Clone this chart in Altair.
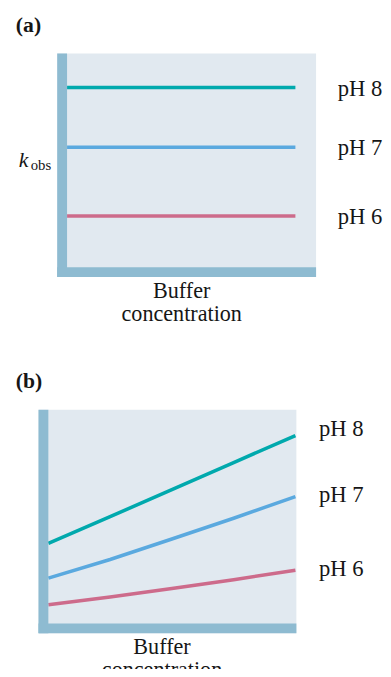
import altair as alt
import pandas as pd

# ---------------- data ----------------
series = ["pH 8", "pH 7", "pH 6"]
line_colors = ["#00A9AD", "#5AA9DF", "#CD6B8B"]

# panel (a): k_obs does not change with buffer concentration
a_x = [0.0, 1.0]
a_levels = [8.48, 5.81, 2.73]
a_label_y = [8.40, 5.76, 2.69]

# panel (b): k_obs rises with buffer concentration
b_x = [0.0, 0.25, 0.5, 0.75, 1.0]
b_ph8 = [4.02, 5.22, 6.43, 7.64, 8.85]
b_ph7 = [2.47, 3.30, 4.22, 5.15, 6.12]
b_ph6 = [1.28, 1.62, 2.00, 2.40, 2.82]
b_label_y = [9.16, 6.17, 2.89]

kobs_y = 4.91
x_title = ["Buffer", "concentration"]

# ---------------- layout / style ----------------
FONT = "Liberation Serif"
TXT = "#161616"
FILL = "#E1E9F0"
BARC = "#8EBBD1"
H = 227
Y_DOM = [0, 10]
BAR = 10  # px thickness of the axis bars


def build_lines(xs, ys_list):
    rows = []
    for s, c, ys in zip(series, line_colors, ys_list):
        for xv, yv in zip(xs, ys):
            rows.append({"series": s, "color": c, "x": xv, "y": yv})
    return pd.DataFrame(rows)


def panel(lines_df, label_ys, width, start_px, unit_px, fill_left_px,
          title, label_dx, title_x, with_kobs=False):
    d0 = -start_px / unit_px
    d1 = d0 + width / unit_px
    fx0 = d0 + fill_left_px / unit_px
    bx1 = fx0 + BAR / unit_px
    by1 = BAR / (H / (Y_DOM[1] - Y_DOM[0]))

    axis = alt.Axis(title=x_title, domain=False, ticks=False, labels=False,
                    grid=False, titleFont=FONT, titleFontSize=22.5,
                    titleFontWeight="normal", titleColor=TXT, titlePadding=3,
                    titleLineHeight=23, titleX=title_x)
    xs = alt.Scale(domain=[d0, d1], nice=False, zero=False)
    ys = alt.Scale(domain=Y_DOM, nice=False, zero=False)

    def X(f):
        return alt.X(f, type="quantitative", scale=xs, axis=axis)

    def Y(f):
        return alt.Y(f, type="quantitative", scale=ys, axis=None)

    bg = pd.DataFrame([{"x0": fx0, "x1": d1, "y0": Y_DOM[0], "y1": Y_DOM[1]}])
    bars = pd.DataFrame([
        {"x0": fx0, "x1": bx1, "y0": Y_DOM[0], "y1": Y_DOM[1]},
        {"x0": fx0, "x1": d1, "y0": Y_DOM[0], "y1": by1},
    ])
    labels = pd.DataFrame({"series": series, "x": [1.0] * 3, "y": label_ys})

    layers = [
        alt.Chart(bg).mark_rect(color=FILL).encode(x=X("x0"), x2="x1", y=Y("y0"), y2="y1"),
        alt.Chart(lines_df).mark_line(strokeWidth=3.6, strokeCap="butt").encode(
            x=X("x"), y=Y("y"), detail="series:N",
            color=alt.Color("color:N", scale=None)),
        alt.Chart(bars).mark_rect(color=BARC).encode(x=X("x0"), x2="x1", y=Y("y0"), y2="y1"),
        alt.Chart(labels).mark_text(align="left", baseline="middle", dx=label_dx,
                                    font=FONT, fontSize=23, color=TXT).encode(
            x=X("x"), y=Y("y"), text="series:N"),
    ]
    if with_kobs:
        kdf = pd.DataFrame([{"t": "k", "x": 0.0, "y": kobs_y}])
        odf = pd.DataFrame([{"t": "obs", "x": 0.0, "y": kobs_y}])
        layers.append(alt.Chart(kdf).mark_text(
            align="left", baseline="alphabetic", dx=-49, font=FONT, fontSize=22,
            fontStyle="italic", color=TXT).encode(x=X("x"), y=Y("y"), text="t:N"))
        layers.append(alt.Chart(odf).mark_text(
            align="left", baseline="alphabetic", dx=-37, dy=2.5, font=FONT,
            fontSize=15, color=TXT).encode(x=X("x"), y=Y("y"), text="t:N"))

    return alt.layer(*layers).properties(
        width=width, height=H,
        title=alt.TitleParams(text=title, anchor="start", frame="group", dx=-23,
                              offset=17, font=FONT, fontSize=22,
                              fontWeight="bold", color=TXT),
    )


panel_a = panel(build_lines(a_x, [[v, v] for v in a_levels]), a_label_y,
                width=282, start_px=29, unit_px=232, fill_left_px=19,
                title="(a)", label_dx=43, title_x=145, with_kobs=True)
panel_b = panel(build_lines(b_x, [b_ph8, b_ph7, b_ph6]), b_label_y,
                width=262, start_px=10, unit_px=251, fill_left_px=0,
                title="(b)", label_dx=24, title_x=125)

# negative bottom padding crops the lower caption like the reference and
# keeps the page inside the 677 px window
chart = alt.vconcat(panel_a, panel_b, spacing=46).properties(
    padding={"left": 8, "top": 1, "right": 0, "bottom": -18}
).configure_view(stroke=None)

chart.save("out.html", embed_options={"renderer": "svg", "actions": False})
